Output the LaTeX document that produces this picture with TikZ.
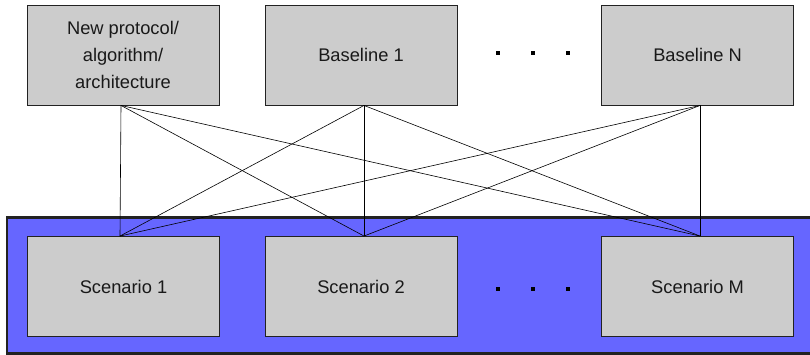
\documentclass[tikz,border=0pt]{standalone}
\usepackage{fontspec}
\setmainfont{Liberation Sans}
\definecolor{boxgray}{HTML}{CCCCCC}
\definecolor{bandblue}{HTML}{6666FF}
\definecolor{edgedark}{HTML}{222222}
\begin{document}
\begin{tikzpicture}[x=1pt,y=-1pt,
  box/.style={draw=edgedark, line width=0.9pt, fill=boxgray, minimum width=192pt, minimum height=100pt,
    inner sep=0pt, align=center, font=\fontsize{18.3}{27}\selectfont, text=black!90},
  link/.style={draw=black, line width=0.6pt},
  dotsq/.style={fill=black, minimum size=4pt, inner sep=0pt}]
\useasboundingbox (0,0) rectangle (810,355);
\clip (0,0) rectangle (810,355);
% blue band
\draw[fill=bandblue, draw=edgedark, line width=2.6pt] (7,217.5) rectangle (820,353.5);
% top boxes
\node[box] (np) at (123,55) {New protocol/\\algorithm/\\architecture};
\node[box] (b1) at (361,55) {Baseline 1};
\node[box] (bn) at (697.5,55) {Baseline N};
% scenarios
\node[box] (s1) at (123.5,286.5) {Scenario 1};
\node[box] (s2) at (361,286.5) {Scenario 2};
\node[box] (sm) at (697.5,286.5) {Scenario M};
% attachment points
\coordinate (pnp) at ([xshift=-2pt]np.south);
\coordinate (pb1) at ([xshift=3pt]b1.south);
\coordinate (pbn) at ([xshift=2.5pt]bn.south);
\coordinate (ps1) at ([xshift=-3.5pt]s1.north);
\coordinate (ps2) at ([xshift=3pt]s2.north);
\coordinate (psm) at ([xshift=2.5pt]sm.north);
% connectors
\foreach \t in {pnp,pb1,pbn}{
  \foreach \s in {ps1,ps2,psm}{
    \draw[link] (\t) -- (\s);
  }
}
% dots
\node[dotsq] (d1) at (498,53) {};
\node[dotsq] (d2) at (533,53) {};
\node[dotsq] (d3) at (568,53) {};
\node[dotsq] (e1) at (498,289) {};
\node[dotsq] (e2) at (533,289) {};
\node[dotsq] (e3) at (568,289) {};
\end{tikzpicture}
\end{document}
